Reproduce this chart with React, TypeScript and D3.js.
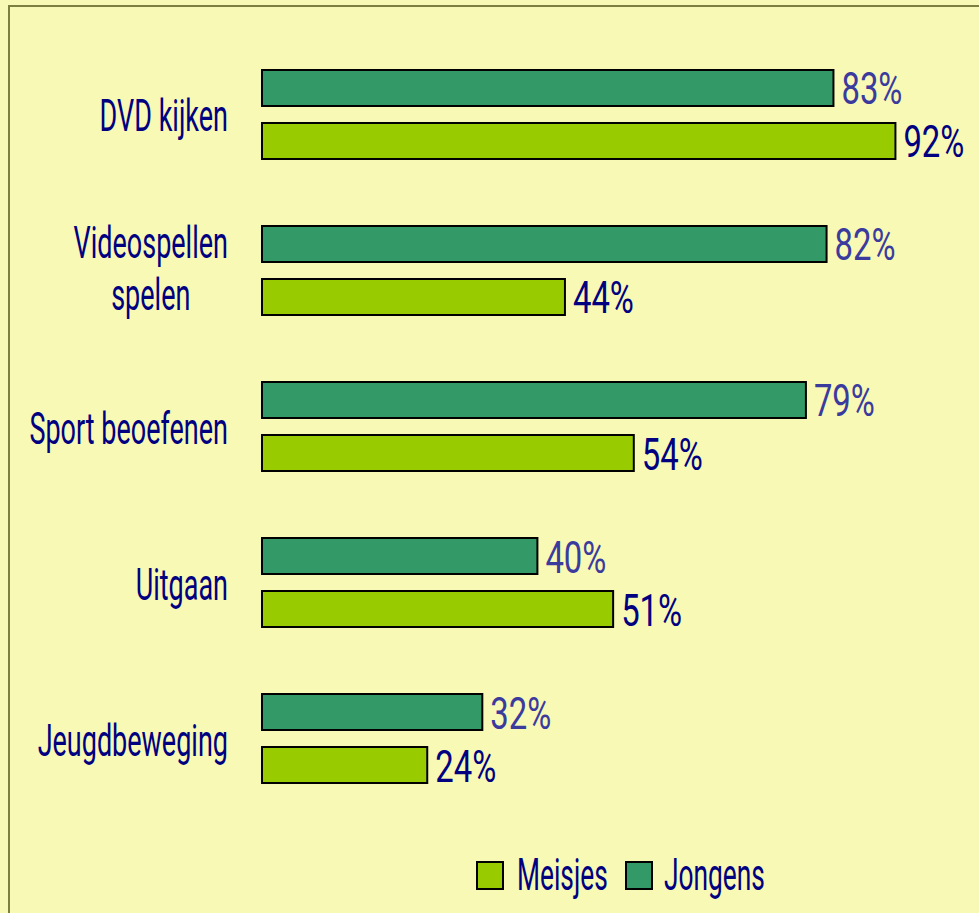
import React, { useEffect, useRef } from "react";
import * as d3 from "d3";

const categories = ["DVD kijken", "Videospellen\nspelen", "Sport beoefenen", "Uitgaan", "Jeugdbeweging"];
const jongens = [83, 82, 79, 40, 32];
const meisjes = [92, 44, 54, 51, 24];
const seriesNames = ["Jongens", "Meisjes"];
const legendOrder = ["Meisjes", "Jongens"];

const W = 979;
const H = 913;
const BG = "#f7f9b5";
const FRAME = "#7b8040";
const COLORS: Record<string, string> = { Jongens: "#339966", Meisjes: "#99cc00" };
const LABEL_COLORS: Record<string, string> = { Jongens: "#3b3b9e", Meisjes: "#000080" };
const TEXT = "#000080";
const FONT = "Roboto, 'Liberation Sans', sans-serif";
const FS = 45;
const FW = 400;
const SX = 0.6;
const SXL = 0.585;
const SXV = 0.73;

export default function App() {
  const ref = useRef<SVGSVGElement | null>(null);

  useEffect(() => {
    const svg = d3.select(ref.current);
    svg.selectAll("*").remove();

    svg.append("rect").attr("x", 0).attr("y", 0).attr("width", W).attr("height", H).attr("fill", BG);
    svg
      .append("rect")
      .attr("x", 9)
      .attr("y", 6)
      .attr("width", W + 20)
      .attr("height", H + 20)
      .attr("fill", "none")
      .attr("stroke", FRAME)
      .attr("stroke-width", 2);

    const x = d3.scaleLinear().domain([0, 100]).range([262, 950.5]);
    const y = d3.scaleBand<string>().domain(categories).range([36.5, 816.5]).paddingInner(0.4295).paddingOuter(0.2147);
    const inner = d3.scaleBand<string>().domain(seriesNames).range([0, y.bandwidth()]).paddingInner(0.3208);

    const data = categories.map((c, i) => ({ c, vals: [{ s: "Jongens", v: jongens[i] }, { s: "Meisjes", v: meisjes[i] }] }));

    const g = svg.selectAll("g.grp").data(data).enter().append("g").attr("class", "grp")
      .attr("transform", (d) => `translate(0,${y(d.c)})`);

    g.selectAll("rect.bar").data((d) => d.vals).enter().append("rect")
      .attr("class", "bar")
      .attr("x", x(0))
      .attr("y", (d) => inner(d.s)!)
      .attr("width", (d) => x(d.v) - x(0))
      .attr("height", inner.bandwidth())
      .attr("fill", (d) => COLORS[d.s])
      .attr("stroke", "#000")
      .attr("stroke-width", 2);

    g.selectAll("text.val").data((d) => d.vals).enter().append("text")
      .attr("class", "val")
      .attr("transform", (d) => `translate(${x(d.v) + 8},${inner(d.s)! + inner.bandwidth() / 2 + 16.5}) scale(${SXV},1)`)
      .attr("font-family", FONT)
      .attr("font-size", FS)
      .attr("font-weight", FW)
      .attr("fill", (d) => LABEL_COLORS[d.s])
      .text((d) => `${d.v}%`);

    // category labels
    g.each(function (d) {
      const lines = d.c.split("\n");
      const grp = d3.select(this);
      const cy = y.bandwidth() / 2;
      const texts = lines.map((ln) =>
        grp.append("text")
          .attr("font-family", FONT)
          .attr("font-size", FS)
          .attr("font-weight", FW)
          .attr("fill", TEXT)
          .attr("text-anchor", "middle")
          .text(ln)
      );
      const widths = texts.map((t) => (t.node() as SVGTextElement).getComputedTextLength() * SX);
      const maxW = Math.max(...widths);
      const right = 228;
      const centerX = right - maxW / 2;
      const lh = 52;
      const base0 = lines.length === 1 ? cy + 17 : cy - 12.5;
      texts.forEach((t, k) => {
        t.attr("transform", `translate(${centerX},${base0 + k * lh}) scale(${SX},1)`);
      });
    });

    // legend
    const legendPos: Record<string, { sx: number; tx: number }> = {
      Meisjes: { sx: 477, tx: 517 },
      Jongens: { sx: 626, tx: 664 },
    };
    const lg = svg.selectAll("g.leg").data(legendOrder).enter().append("g").attr("class", "leg");
    lg.append("rect")
      .attr("x", (d) => legendPos[d].sx)
      .attr("y", 862)
      .attr("width", 26)
      .attr("height", 27)
      .attr("fill", (d) => COLORS[d])
      .attr("stroke", "#000")
      .attr("stroke-width", 2);
    lg.append("text")
      .attr("transform", (d) => `translate(${legendPos[d].tx},890) scale(${SXL},1)`)
      .attr("font-family", FONT)
      .attr("font-size", FS)
      .attr("font-weight", FW)
      .attr("fill", TEXT)
      .text((d) => d);
  }, []);

  return (
    <div style={{ position: "absolute", left: 0, top: 0, width: W, height: H, overflow: "hidden" }}>
      <svg ref={ref} width={W} height={H} style={{ display: "block" }} />
    </div>
  );
}
